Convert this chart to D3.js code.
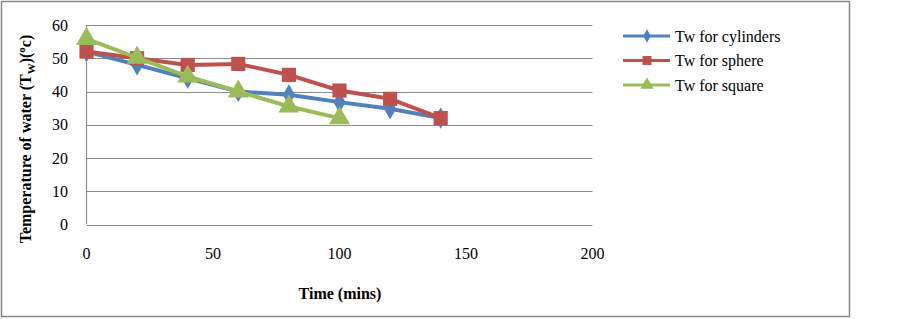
<!DOCTYPE html>
<html><head><meta charset="utf-8">
<script src="https://cdn.jsdelivr.net/npm/d3@7"></script>
<style>
body{margin:0;background:#fff;}
svg text{font-family:"Liberation Serif","Times New Roman",serif;fill:#000;}
</style></head>
<body><div id="chart"></div>
<script>
// values
var times=[0,20,40,60,80,100,120,140];
var cylinders=[52,48,44,40,39,36.8,34.8,32];
var sphere=[52,50,48,48.3,45,40.3,37.8,32];
var squareT=[0,20,40,60,80,100];
var square=[55.8,50.2,44.5,40,35.5,32];
var xTicks=[0,50,100,150,200];
var yTicks=[0,10,20,30,40,50,60];

var series=[
  {name:"Tw for cylinders",x:times,y:cylinders,color:"#4F81BD",shape:"diamond"},
  {name:"Tw for sphere",x:times,y:sphere,color:"#C0504D",shape:"square"},
  {name:"Tw for square",x:squareT,y:square,color:"#9BBB59",shape:"triangle"}
];

var W=899,H=319;
var svg=d3.select("#chart").append("svg").attr("width",W).attr("height",H);
svg.append("rect").attr("x",1.5).attr("y",1.5).attr("width",848).attr("height",315)
  .attr("fill","#fff").attr("stroke","#868686").attr("stroke-width",1.5);

var x=d3.scaleLinear().domain([0,200]).range([86.5,592.5]);
var y=d3.scaleLinear().domain([0,60]).range([224.5,25]);

// gridlines
svg.append("g").selectAll("line").data(yTicks).join("line")
  .attr("x1",x(0)).attr("x2",x(200)).attr("y1",function(d){return Math.round(y(d))+0.5;}).attr("y2",function(d){return Math.round(y(d))+0.5;})
  .attr("stroke","#8c8c8c").attr("stroke-width",1.2);
svg.append("line").attr("x1",x(0)).attr("x2",x(0)).attr("y1",y(60)).attr("y2",y(0))
  .attr("stroke","#8c8c8c").attr("stroke-width",1.2);

// tick labels
svg.append("g").selectAll("text").data(yTicks).join("text")
  .attr("x",68).attr("y",function(d){return y(d)+5.5;}).attr("text-anchor","end")
  .style("font-size","16px").text(function(d){return d;});
svg.append("g").selectAll("text").data(xTicks).join("text")
  .attr("x",function(d){return x(d);}).attr("y",259).attr("text-anchor","middle")
  .style("font-size","16px").text(function(d){return d;});

// axis titles
svg.append("text").attr("x",340).attr("y",299).attr("text-anchor","middle")
  .style("font-size","16px").style("font-weight","bold").text("Time (mins)");
var yt=svg.append("text").attr("transform","translate(31,139) rotate(-90)").attr("text-anchor","middle")
  .style("font-size","16px").style("font-weight","bold");
yt.append("tspan").text("Temperature of water (T");
yt.append("tspan").attr("dy",4).style("font-size","11px").text("W");
yt.append("tspan").attr("dy",-4).text(")(");
yt.append("tspan").attr("dy",-6).style("font-size","11px").text("o");
yt.append("tspan").attr("dy",6).text("c)");

var sym={diamond:d3.symbolDiamond,square:d3.symbolSquare,triangle:d3.symbolTriangle};
var size={diamond:130,square:200,triangle:190};

series.forEach(function(s){
  var pts=s.x.map(function(t,i){return [t,s.y[i]];});
  var line=d3.line().x(function(d){return x(d[0]);}).y(function(d){return y(d[1]);});
  svg.append("path").datum(pts).attr("d",line).attr("fill","none")
    .attr("stroke",s.color).attr("stroke-width",4).attr("stroke-linejoin","round");
  svg.append("g").selectAll("path").data(pts).join("path")
    .attr("transform",function(d){return "translate("+x(d[0])+","+y(d[1])+")";})
    .attr("d",d3.symbol().type(sym[s.shape]).size(size[s.shape]))
    .attr("fill",s.color);
});

// legend
var lg=svg.append("g").selectAll("g").data(series).join("g")
  .attr("transform",function(d,i){return "translate(623,"+(36+i*24.5)+")";});
lg.append("line").attr("x1",0).attr("x2",47).attr("stroke",function(d){return d.color;}).attr("stroke-width",3);
lg.append("path").attr("transform","translate(24,0)")
  .attr("d",function(d){return d3.symbol().type(sym[d.shape]).size(size[d.shape]*0.4)();})
  .attr("fill",function(d){return d.color;});
lg.append("text").attr("x",52).attr("y",5.5).style("font-size","16px").text(function(d){return d.name;});
</script>
</body></html>
